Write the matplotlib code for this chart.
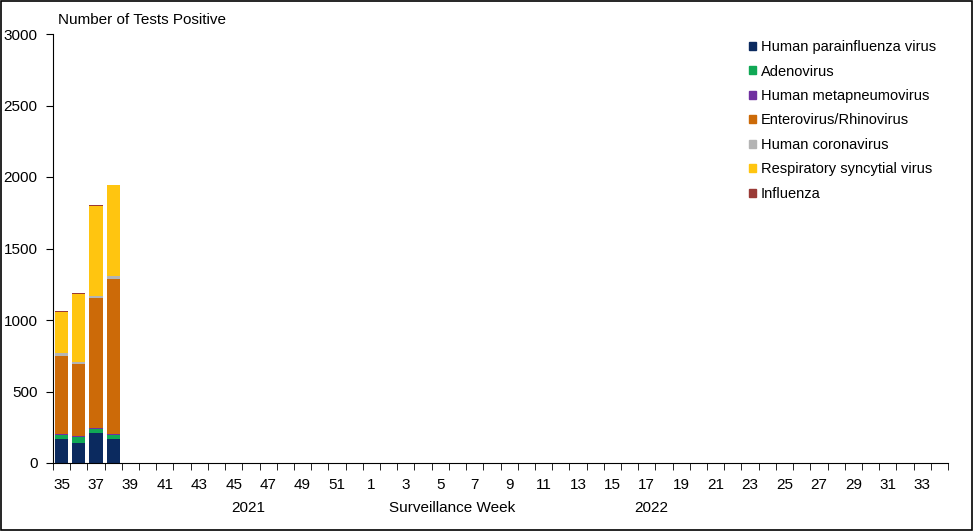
import matplotlib.pyplot as plt
import matplotlib.patches as mpatches
import numpy as np

plt.rcParams['font.family'] = ['Liberation Sans', 'DejaVu Sans']

# surveillance weeks on the axis (2021 wk 35 .. 2022 wk 34)
weeks = list(range(35, 53)) + list(range(1, 35))
# weeks that have data so far
data_weeks = [35, 36, 37, 38]

parainfluenza = [166, 142, 212, 166]
adenovirus = [28, 40, 28, 28]
metapneumovirus = [7, 7, 5, 11]
entero_rhino = [550, 506, 912, 1081]
coronavirus = [21, 14, 12, 23]
rsv = [285, 472, 625, 632]
influenza = [7, 9, 7, 3]

series = [
    ('Human parainfluenza virus', parainfluenza, '#0b2a5f'),
    ('Adenovirus', adenovirus, '#10a855'),
    ('Human metapneumovirus', metapneumovirus, '#7030a0'),
    ('Enterovirus/Rhinovirus', entero_rhino, '#cc6a08'),
    ('Human coronavirus', coronavirus, '#b4b4b4'),
    ('Respiratory syncytial virus', rsv, '#ffc510'),
    ('Influenza', influenza, '#9a3a36'),
]

fig = plt.figure(figsize=(9.74, 5.31), dpi=100)
ax = fig.add_axes([53/974, 1 - 463/531, (948 - 53)/974, (463 - 34)/531])

xpos = np.array([weeks.index(w) for w in data_weeks])
bottom = np.zeros(len(data_weeks))
handles = []
for name, vals, col in series:
    ax.bar(xpos, vals, width=0.77, bottom=bottom, color=col, linewidth=0)
    bottom += np.array(vals)
    handles.append(mpatches.Patch(color=col, label=name))

ax.set_xlim(-0.5, len(weeks) - 0.5)
ax.set_ylim(0, 3000)
ax.set_yticks(np.arange(0, 3001, 500))
ax.tick_params(axis='y', direction='out', length=5, labelsize=11, pad=6)

# labels every other week, tick marks at category boundaries
ax.set_xticks(np.arange(0, len(weeks), 2))
ax.set_xticklabels([str(weeks[i]) for i in range(0, len(weeks), 2)])
ax.set_xticks(np.arange(-0.5, len(weeks), 1), minor=True)
ax.tick_params(axis='x', which='major', length=0, labelsize=11, pad=11)
ax.tick_params(axis='x', which='minor', direction='out', length=5)

for s in ['top', 'right']:
    ax.spines[s].set_visible(False)

fig.text(58/974, 1 - 20/531, 'Number of Tests Positive', fontsize=11, va='center')
fig.text(248/974, 1 - 508/531, '2021', fontsize=11, ha='center', va='center')
fig.text(452/974, 1 - 508/531, 'Surveillance Week', fontsize=11, ha='center', va='center')
fig.text(651/974, 1 - 508/531, '2022', fontsize=11, ha='center', va='center')

fig.legend(handles=handles, loc='upper left', bbox_to_anchor=(749/974, 1 - 40/531),
           frameon=False, fontsize=10.5, handlelength=0.5, handleheight=0.5,
           handletextpad=0.3, labelspacing=0.72, borderpad=0, borderaxespad=0)

# border around the whole figure
fig.patches.append(mpatches.Rectangle((0.001, 0.002), 0.997, 0.996, transform=fig.transFigure,
                                      fill=False, edgecolor='black', linewidth=1.2))

fig.savefig('out.png', dpi=100)
